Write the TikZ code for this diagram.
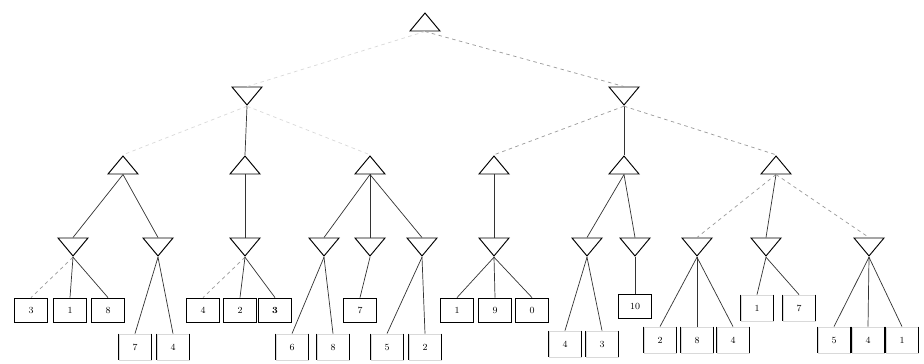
\documentclass[tikz,border=0pt]{standalone}
\usepackage{tikz}
\usetikzlibrary{shapes.geometric}

\begin{document}
\begin{tikzpicture}[
  x=0.03cm, y=-0.03cm,
  maxnode/.style={draw, isosceles triangle, isosceles triangle stretches,
    shape border rotate=90, inner sep=0pt, minimum width=0.9cm,
    minimum height=0.54cm, line width=0.8pt},
  minnode/.style={maxnode, shape border rotate=270},
  leaf/.style={draw, line width=0.7pt, minimum width=1cm,
    minimum height=0.72cm, inner sep=0pt, font=\footnotesize},
  bars/.style={leaf, draw=black!15, minimum width=0.96cm, minimum height=0.78cm},
  side/.style={draw=black, line width=0.9pt},
  move/.style={draw=black!80, line width=0.6pt},
  cut/.style={draw=black!40, dashed, line width=0.6pt},
  ghost/.style={draw=black!15, dashed, line width=0.6pt}]
\useasboundingbox[fill=white] (0,0) rectangle (924,363);

\node[maxnode] (r) at (425,24) {};
\node[minnode] (a) at (247,94) {};
\node[minnode] (b) at (624,94) {};

\node[maxnode] (a1) at (123,167) {};
\node[maxnode] (a2) at (245,167) {};
\node[maxnode] (a3) at (370,167) {};
\node[maxnode] (b1) at (494,167) {};
\node[maxnode] (b2) at (624,167) {};
\node[maxnode] (b3) at (776,167) {};

\node[minnode] (m1) at (73,245) {};
\node[minnode] (m2) at (158,245) {};
\node[minnode] (m3) at (245,245) {};
\node[minnode] (m4) at (324,245) {};
\node[minnode] (m5) at (370,245) {};
\node[minnode] (m6) at (422,245) {};
\node[minnode] (m7) at (494,245) {};
\node[minnode] (m8) at (587,245) {};
\node[minnode] (m9) at (635,245) {};
\node[minnode] (m10) at (697,245) {};
\node[minnode] (m11) at (766,245) {};
\node[minnode] (m12) at (869,245) {};

\node[leaf] (l1) at (31,310) {3};
\node[leaf] (l2) at (70,310) {1};
\node[leaf] (l3) at (108,310) {8};
\node[bars] (l4) at (135,347) {7};
\node[bars] (l5) at (173,347) {4};
\node[leaf] (l6) at (203,310) {4};
\node[leaf] (l7) at (240,310) {2};
\node[leaf] (l8) at (275,310) {\textbf{3}};
\node[bars] (l9) at (292,347) {6};
\node[bars] (l10) at (333,347) {8};
\node[leaf] (l11) at (360,310) {7};
\node[bars] (l12) at (387,347) {5};
\node[bars] (l13) at (425,347) {2};
\node[leaf] (l14) at (457,310) {1};
\node[leaf] (l15) at (495,310) {9};
\node[leaf] (l16) at (532,310) {0};
\node[bars] (l17) at (565,344) {4};
\node[bars] (l18) at (602,344) {3};
\node[leaf] (l19) at (635,306) {10};
\node[bars] (l20) at (660,340) {2};
\node[bars] (l21) at (697,340) {8};
\node[bars] (l22) at (733,340) {4};
\node[bars] (l23) at (757,308) {1};
\node[bars] (l24) at (799,308) {7};
\node[bars] (l25) at (834,340) {5};
\node[bars] (l26) at (868,340) {4};
\node[bars] (l27) at (902,340) {1};

\foreach \n in {l4,l5,l9,l10,l12,l13,l17,l18,l20,l21,l22,l23,l24,l25,l26,l27}
  \draw[side] (\n.north west) -- (\n.south west) (\n.north east) -- (\n.south east);

\draw[ghost] (r.south) -- (a.north);
\draw[cut] (r.south) -- (b.north);
\draw[ghost] (a.south) -- (a1.north);
\draw[move] (a.south) -- (a2.north);
\draw[ghost] (a.south) -- (a3.north);
\draw[cut] (b.south) -- (b1.north);
\draw[move] (b.south) -- (b2.north);
\draw[cut] (b.south) -- (b3.north);

\draw[move] (a1.south) -- (m1.north);
\draw[move] (a1.south) -- (m2.north);
\draw[move] (a2.south) -- (m3.north);
\draw[move] (a3.south) -- (m4.north);
\draw[move] (a3.south) -- (m5.north);
\draw[move] (a3.south) -- (m6.north);
\draw[move] (b1.south) -- (m7.north);
\draw[move] (b2.south) -- (m8.north);
\draw[move] (b2.south) -- (m9.north);
\draw[cut] (b3.south) -- (m10.north);
\draw[move] (b3.south) -- (m11.north);
\draw[cut] (b3.south) -- (m12.north);

\draw[cut] (m1.south) -- (l1.north);
\draw[move] (m1.south) -- (l2.north);
\draw[move] (m1.south) -- (l3.north);
\draw[move] (m2.south) -- (l4.north);
\draw[move] (m2.south) -- (l5.north);
\draw[cut] (m3.south) -- (l6.north);
\draw[move] (m3.south) -- (l7.north);
\draw[move] (m3.south) -- (l8.north);
\draw[move] (m4.south) -- (l9.north);
\draw[move] (m4.south) -- (l10.north);
\draw[move] (m5.south) -- (l11.north);
\draw[move] (m6.south) -- (l12.north);
\draw[move] (m6.south) -- (l13.north);
\draw[move] (m7.south) -- (l14.north);
\draw[move] (m7.south) -- (l15.north);
\draw[move] (m7.south) -- (l16.north);
\draw[move] (m8.south) -- (l17.north);
\draw[move] (m8.south) -- (l18.north);
\draw[move] (m9.south) -- (l19.north);
\draw[move] (m10.south) -- (l20.north);
\draw[move] (m10.south) -- (l21.north);
\draw[move] (m10.south) -- (l22.north);
\draw[move] (m11.south) -- (l23.north);
\draw[move] (m11.south) -- (l24.north);
\draw[move] (m12.south) -- (l25.north);
\draw[move] (m12.south) -- (l26.north);
\draw[move] (m12.south) -- (l27.north);
\end{tikzpicture}
\end{document}
